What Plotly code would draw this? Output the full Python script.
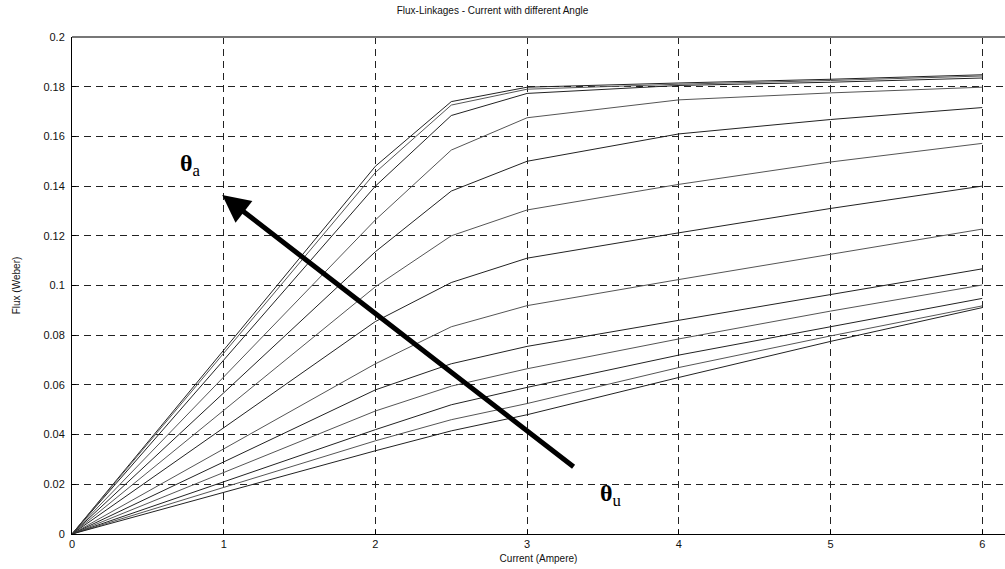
import plotly.graph_objects as go

# Current (Ampere) sample points
current = [0, 2, 2.5, 3, 4, 5, 6]

# Flux-linkage curves (Weber), from aligned angle (top) to unaligned (bottom)
flux_01 = [0, 0.1480, 0.1740, 0.1798, 0.1815, 0.1830, 0.1848]
flux_02 = [0, 0.1455, 0.1726, 0.1790, 0.1810, 0.1825, 0.1843]
flux_03 = [0, 0.1400, 0.1684, 0.1773, 0.1805, 0.1818, 0.1835]
flux_04 = [0, 0.1264, 0.1545, 0.1675, 0.1747, 0.1775, 0.1798]
flux_05 = [0, 0.1136, 0.1380, 0.1500, 0.1610, 0.1668, 0.1716]
flux_06 = [0, 0.0995, 0.1200, 0.1304, 0.1407, 0.1497, 0.1572]
flux_07 = [0, 0.0855, 0.1012, 0.1110, 0.1212, 0.1310, 0.1400]
flux_08 = [0, 0.0685, 0.0834, 0.0919, 0.1024, 0.1127, 0.1227]
flux_09 = [0, 0.0580, 0.0685, 0.0755, 0.0860, 0.0965, 0.1067]
flux_10 = [0, 0.0495, 0.0595, 0.0665, 0.0785, 0.0897, 0.1002]
flux_11 = [0, 0.0420, 0.0520, 0.0590, 0.0720, 0.0834, 0.0948]
flux_12 = [0, 0.0375, 0.0460, 0.0525, 0.0670, 0.0797, 0.0918]
flux_13 = [0, 0.0335, 0.0415, 0.0480, 0.0630, 0.0775, 0.0911]

curves = [flux_01, flux_02, flux_03, flux_04, flux_05, flux_06, flux_07,
          flux_08, flux_09, flux_10, flux_11, flux_12, flux_13]

x_ticks = [0, 1, 2, 3, 4, 5, 6]
y_ticks = [0, 0.02, 0.04, 0.06, 0.08, 0.1, 0.12, 0.14, 0.16, 0.18, 0.2]
y_ticktext = ["0", "0.02", "0.04", "0.06", "0.08", "0.1", "0.12", "0.14", "0.16", "0.18", "0.2"]

title_text = "Flux-Linkages - Current with different Angle"
x_title = "Current (Ampere)"
y_title = "Flux (Weber)"

fig = go.Figure()
line_colors = ["#222222", "#555555"]
for i, ys in enumerate(curves):
    fig.add_trace(go.Scatter(
        x=current, y=ys, mode="lines",
        line=dict(color=line_colors[i % 2], width=1),
        showlegend=False, hoverinfo="skip"))

font_sans = "Liberation Sans, Arial, sans-serif"

fig.update_layout(
    width=1005, height=569,
    margin=dict(l=72, r=0, t=37, b=35, autoexpand=False),
    paper_bgcolor="white", plot_bgcolor="white",
    title=dict(text=title_text, x=0.49, xanchor="center", y=0.987, yanchor="top",
               font=dict(family=font_sans, size=10, color="#111")),
    xaxis=dict(range=[0, 6.15], tickvals=x_ticks, showgrid=True, automargin=False,
               gridcolor="#222", griddash="7px,5px", gridwidth=1,
               showline=True, linecolor="#000", linewidth=1,
               zeroline=False, ticks="inside", ticklen=4, tickcolor="#000",
               tickfont=dict(family=font_sans, size=11, color="#111"),
               title=dict(text=x_title, standoff=5,
                          font=dict(family=font_sans, size=10, color="#111"))),
    yaxis=dict(range=[0, 0.2], tickvals=y_ticks, ticktext=y_ticktext, showgrid=True,
               automargin=False, ticklabelstandoff=4,
               gridcolor="#222", griddash="7px,5px", gridwidth=1,
               showline=True, linecolor="#000", linewidth=1,
               zeroline=False, ticks="inside", ticklen=4, tickcolor="#000",
               tickfont=dict(family=font_sans, size=11, color="#111"),
               title=dict(text=y_title, standoff=20,
                          font=dict(family=font_sans, size=10, color="#111"))),
)

# top border of axes box
fig.add_shape(type="line", xref="paper", yref="paper", x0=0, x1=1, y0=1, y1=1,
              line=dict(color="#777", width=2))

# big direction arrow
fig.add_annotation(x=0.99, y=0.1364, ax=3.316, ay=0.0266, xref="x", yref="y",
                   axref="x", ayref="y", text="", showarrow=True,
                   arrowhead=2, arrowsize=1.1, arrowwidth=5, arrowcolor="#000",
                   standoff=0, startstandoff=0)

fig.add_annotation(x=0.78, y=0.1485, xref="x", yref="y", showarrow=False,
                   text="<b>θ</b><sub>a</sub>",
                   font=dict(family="Liberation Serif, Times New Roman, serif", size=24, color="#000"))
fig.add_annotation(x=3.55, y=0.0155, xref="x", yref="y", showarrow=False,
                   text="<b>θ</b><sub>u</sub>",
                   font=dict(family="Liberation Serif, Times New Roman, serif", size=24, color="#000"))

fig.write_html("out.html", config={"displayModeBar": False},
               post_script="document.body.style.margin='0px';document.body.style.overflow='hidden';")
